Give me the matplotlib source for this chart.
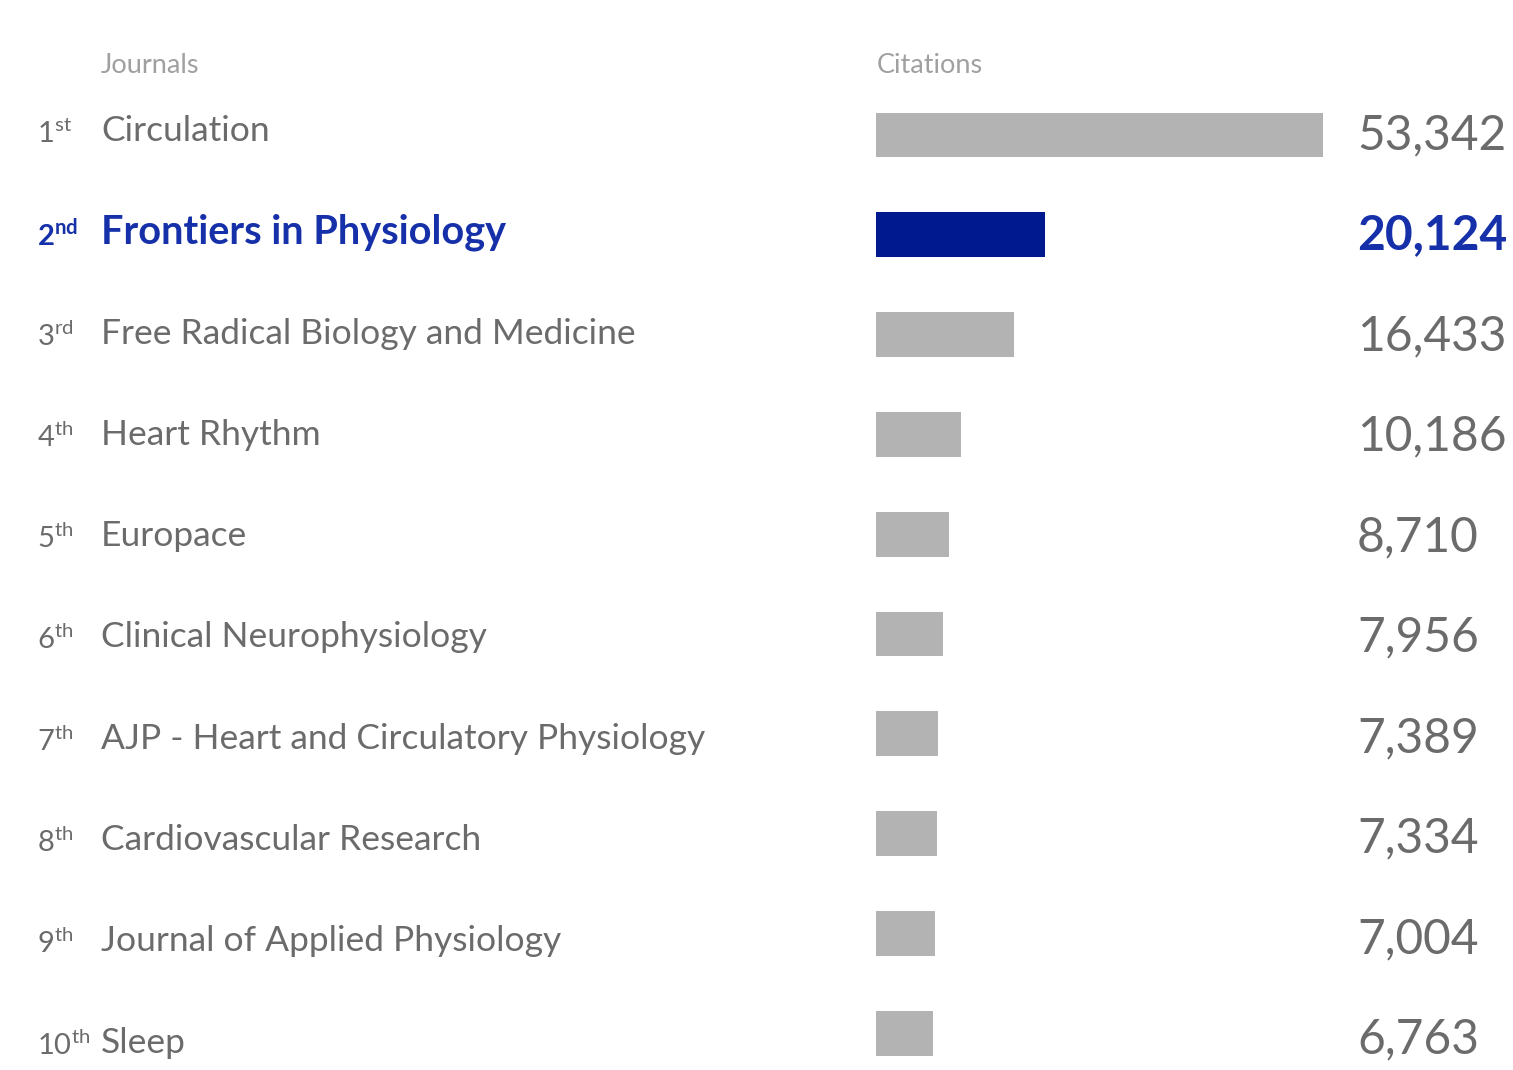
import matplotlib.pyplot as plt
import matplotlib.transforms as mtransforms

plt.rcParams['font.family'] = ['Lato', 'DejaVu Sans']
plt.rcParams['mathtext.fontset'] = 'custom'
plt.rcParams['mathtext.rm'] = 'Lato'
plt.rcParams['mathtext.bf'] = 'Lato:bold'

# top 10 journals by citations
ranks = ["1", "2", "3", "4", "5", "6", "7", "8", "9", "10"]
suffixes = ["st", "nd", "rd", "th", "th", "th", "th", "th", "th", "th"]
journals = [
    "Circulation",
    "Frontiers in Physiology",
    "Free Radical Biology and Medicine",
    "Heart Rhythm",
    "Europace",
    "Clinical Neurophysiology",
    "AJP - Heart and Circulatory Physiology",
    "Cardiovascular Research",
    "Journal of Applied Physiology",
    "Sleep",
]
citations = [53342, 20124, 16433, 10186, 8710, 7956, 7389, 7334, 7004, 6763]
highlight = "Frontiers in Physiology"

W, H = 1513, 1070
fig = plt.figure(figsize=(W / 100, H / 100), dpi=100)
ax = fig.add_axes([0, 0, 1, 1])

# pixel layout of the bars
bar_x0, bar_x1 = 876, 1323
row0, row_step = 135, 99.8
scale = (bar_x1 - bar_x0) / max(citations)
ax.set_xlim(-bar_x0 / scale, (W - bar_x0) / scale)
ax.set_ylim(1 + (H - row0) / row_step, 1 - row0 / row_step)
ax.axis('off')

rows = list(range(1, len(journals) + 1))
gray_bar = "#b3b3b3"
blue_bar = "#00198f"
gray_txt = "#6b6b6b"
blue_txt = "#1530a8"

colors = [blue_bar if j == highlight else gray_bar for j in journals]
ax.barh(rows, citations, height=0.45, color=colors)

tr = mtransforms.blended_transform_factory(fig.transFigure, ax.transData)

for r, rk, sf, name, val in zip(rows, ranks, suffixes, journals, citations):
    hl = name == highlight
    col = blue_txt if hl else gray_txt
    wt = 'bold' if hl else 'normal'
    if hl:
        rank_label = rk + r"$^{\mathbf{" + sf + "}}$"
    else:
        rank_label = rk + r"$^{\mathrm{" + sf + "}}$"
    # text rows drift slightly lower than the bars in the original
    ty = r - 0.04 + (r - 1) * 0.015
    ax.text(37 / W, ty + 0.02, rank_label, transform=tr, fontsize=21,
            color=col, va='center', ha='left', fontweight=wt)
    ax.text(101 / W, ty, name, transform=tr,
            fontsize=28.5 if hl else 25.5,
            color=col, va='center', ha='left', fontweight=wt)
    ax.text(1357 / W, r + (r - 1) * 0.007, f"{val:,}", transform=tr,
            fontsize=34.5, color=col, va='center', ha='left', fontweight=wt)

ax.text(101 / W, 1 - 0.7, "Journals", transform=tr, fontsize=19.5,
        color="#a0a0a0", va='center', ha='left')
ax.text(877 / W, 1 - 0.7, "Citations", transform=tr, fontsize=19.5,
        color="#a0a0a0", va='center', ha='left')

fig.savefig("out.png", dpi=100, facecolor='white')
